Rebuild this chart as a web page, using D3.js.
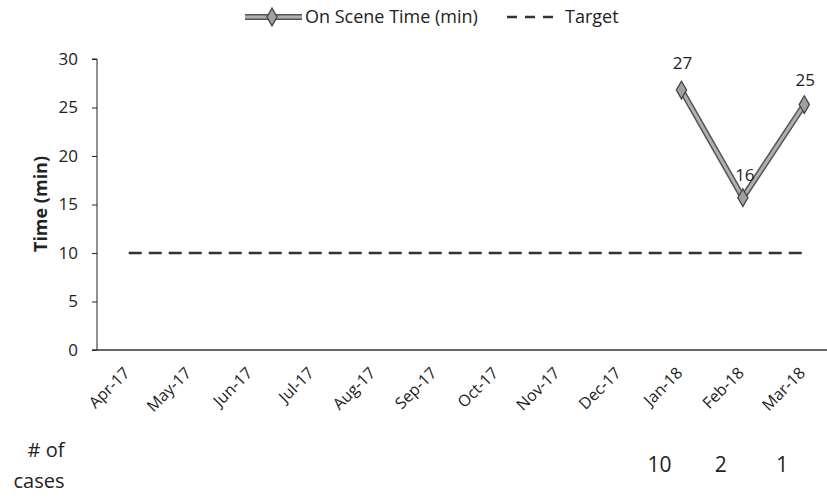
<!DOCTYPE html>
<html><head><meta charset="utf-8">
<script src="https://cdn.jsdelivr.net/npm/d3@7"></script>
<style>body{margin:0;background:#fff}svg{display:block;font-family:"Open Sans",sans-serif}</style>
</head><body>
<svg id="c" width="827" height="498"></svg>
<script>
const months = ["Apr-17","May-17","Jun-17","Jul-17","Aug-17","Sep-17","Oct-17","Nov-17","Dec-17","Jan-18","Feb-18","Mar-18"];
const onSceneMonths = ["Jan-18","Feb-18","Mar-18"];
const onSceneValues = [26.8, 15.7, 25.3];
const targetValues = [10,10,10,10,10,10,10,10,10,10,10,10];
const caseCounts = ["10","2","1"];
const yTicks = [0,5,10,15,20,25,30];

const svg = d3.select("#c");
const x = d3.scaleBand().domain(months).range([98, 835]);
const xc = m => x(m) + x.bandwidth()/2;
const y = d3.scaleLinear().domain([0,30]).range([350, 59]);

// y axis
const ya = svg.append("g").attr("transform","translate(97,0)")
  .call(d3.axisLeft(y).tickValues(yTicks).tickSize(5).tickPadding(14));
ya.attr("font-size",null).attr("font-family",null);
ya.select(".domain").attr("d","M-5,"+y(30)+"H0V"+y(0)).attr("stroke","#222");
ya.selectAll(".tick line").attr("stroke","#222");
ya.selectAll(".tick text").style("font-size","17px").attr("fill","#222");

// x axis line
svg.append("line").attr("x1",92).attr("x2",827).attr("y1",y(0)).attr("y2",y(0)).attr("stroke","#333").attr("stroke-width",1.3);

// x labels
svg.append("g").selectAll("text").data(months).join("text")
  .attr("transform", d => `translate(${xc(d)+2},${y(0)+24}) rotate(-45)`)
  .attr("text-anchor","end").style("font-size","16px").attr("fill","#222").text(d=>d);

// y title
svg.append("text").attr("transform","translate(47,204) rotate(-90)")
  .attr("text-anchor","middle").attr("font-weight","bold").style("font-size","18px").attr("fill","#222").text("Time (min)");

// target line
svg.append("path").datum(targetValues.map((v,i)=>[months[i],v]))
  .attr("d", d3.line().x(d=>xc(d[0])).y(d=>y(d[1])))
  .attr("fill","none").attr("stroke","#333").attr("stroke-width",2.5).attr("stroke-dasharray","13,7");

// series
const pts = onSceneValues.map((v,i)=>[onSceneMonths[i],v]);
const ln = d3.line().x(d=>xc(d[0])).y(d=>y(d[1]));
svg.append("path").datum(pts).attr("d",ln).attr("fill","none").attr("stroke","#555").attr("stroke-width",6);
svg.append("path").datum(pts).attr("d",ln).attr("fill","none").attr("stroke","#b0b0b0").attr("stroke-width",3);
const diamond = d3.symbol().type(d3.symbolDiamond).size(90);
svg.append("g").selectAll("path").data(pts).join("path")
  .attr("transform",d=>`translate(${xc(d[0])},${y(d[1])})`).attr("d",diamond)
  .attr("fill","#a0a0a0").attr("stroke","#444").attr("stroke-width",1.3);
svg.append("g").selectAll("text").data(pts).join("text")
  .attr("x",(d,i)=> xc(d[0]) + [1,2,1][i])
  .attr("y",(d,i)=> y(d[1]) + [-21,-17,-19][i])
  .attr("text-anchor","middle").style("font-size","17px").attr("fill","#222")
  .text(d=>d3.format(".0f")(d[1]));

// legend
const lg = svg.append("g");
lg.append("line").attr("x1",245).attr("x2",302).attr("y1",17).attr("y2",17).attr("stroke","#555").attr("stroke-width",6);
lg.append("line").attr("x1",245).attr("x2",302).attr("y1",17).attr("y2",17).attr("stroke","#b0b0b0").attr("stroke-width",3);
lg.append("path").attr("transform","translate(272,17)").attr("d",diamond).attr("fill","#a0a0a0").attr("stroke","#444").attr("stroke-width",1.3);
lg.append("text").attr("x",305).attr("y",23).style("font-size","18px").attr("fill","#222").text("On Scene Time (min)");
lg.append("line").attr("x1",507).attr("x2",560).attr("y1",17).attr("y2",17).attr("stroke","#333").attr("stroke-width",2.5).attr("stroke-dasharray","10,8");
lg.append("text").attr("x",565).attr("y",23).style("font-size","18px").attr("fill","#222").text("Target");

// # of cases
svg.append("text").attr("x",46).attr("y",457).attr("text-anchor","middle").style("font-size","20px").attr("fill","#222").text("# of");
svg.append("text").attr("x",39).attr("y",488).attr("text-anchor","middle").style("font-size","20px").attr("fill","#222").text("cases");
svg.append("g").selectAll("text").data(caseCounts).join("text")
  .attr("x",(d,i)=>xc(onSceneMonths[i])-22).attr("y",472).attr("text-anchor","middle")
  .style("font-size","21px").attr("fill","#222").text(d=>d);
</script>
</body></html>
